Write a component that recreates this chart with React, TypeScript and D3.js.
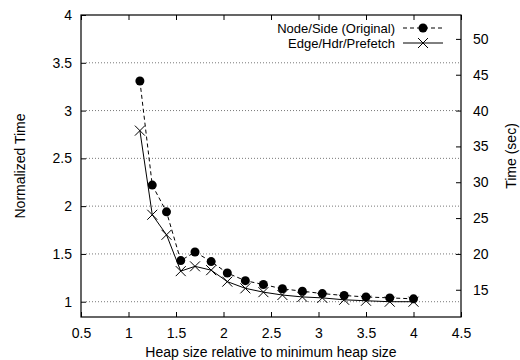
import * as d3 from "d3";
import { useEffect, useRef } from "react";

// heap size relative to minimum heap size
const heapSizes = [1.12, 1.25, 1.4, 1.55, 1.7, 1.87, 2.04, 2.23, 2.42, 2.62, 2.83, 3.04, 3.27, 3.5, 3.75, 4.0];
const nodeSide = [3.31, 2.22, 1.94, 1.43, 1.52, 1.42, 1.3, 1.22, 1.18, 1.135, 1.11, 1.085, 1.065, 1.05, 1.04, 1.03];
const edgeHdr = [2.79, 1.91, 1.7, 1.32, 1.37, 1.33, 1.21, 1.14, 1.1, 1.07, 1.05, 1.04, 1.02, 1.01, 1.0, 1.0];

const xTicks = [0.5, 1, 1.5, 2, 2.5, 3, 3.5, 4, 4.5];
const yTicks = [1, 1.5, 2, 2.5, 3, 3.5, 4];
const y2Ticks = [15, 20, 25, 30, 35, 40, 45, 50];
const seriesNames = ["Node/Side (Original)", "Edge/Hdr/Prefetch"];

// seconds per normalized unit (right axis)
const secPerUnit = 40 / 3;

const W = 520;
const H = 360;
const margin = { left: 81, right: 59, top: 15, bottom: 43 };
const font = "Liberation Sans, Arial, Helvetica, sans-serif";
const fontSize = "14px";

export default function App() {
    const svgRef = useRef<SVGSVGElement>(null);

    useEffect(() => {
        if (svgRef.current) drawChart();
    }, []);

    const drawChart = () => {
        const svg = d3.select(svgRef.current);
        svg.selectAll("*").remove();

        const chartWidth = W - margin.left - margin.right;
        const chartHeight = H - margin.top - margin.bottom;
        const yMin = 0.84;

        const scaleX = d3.scaleLinear().domain([0.5, 4.5]).range([0, chartWidth]);
        const scaleY = d3.scaleLinear().domain([yMin, 4]).range([chartHeight, 0]);
        const scaleY2 = d3
            .scaleLinear()
            .domain([yMin * secPerUnit, 4 * secPerUnit])
            .range([chartHeight, 0]);

        const chart = svg
            .append("g")
            .attr("transform", "translate(" + margin.left + "," + margin.top + ")")
            .style("font-family", font)
            .style("font-size", fontSize);

        // dotted grid lines
        chart
            .append("g")
            .selectAll("line")
            .data(yTicks.filter((t) => t < 4))
            .join("line")
            .attr("x1", 5)
            .attr("x2", chartWidth)
            .attr("y1", (d) => scaleY(d))
            .attr("y2", (d) => scaleY(d))
            .attr("stroke", "#555")
            .attr("stroke-width", 0.8)
            .attr("stroke-dasharray", "1,2");

        // bottom axis, ticks inside
        const xAxis = chart
            .append("g")
            .attr("transform", "translate(0," + chartHeight + ")")
            .call(d3.axisBottom(scaleX).tickValues(xTicks).tickSizeInner(-5).tickSizeOuter(0).tickPadding(11).tickFormat((d) => `${d}`));
        // top mirror ticks
        const xTop = chart
            .append("g")
            .call(d3.axisTop(scaleX).tickValues(xTicks).tickSizeInner(-5).tickSizeOuter(0).tickFormat(() => ""));
        // left axis
        const yAxis = chart
            .append("g")
            .call(d3.axisLeft(scaleY).tickValues(yTicks).tickSizeInner(-5).tickSizeOuter(0).tickPadding(9).tickFormat((d) => `${d}`));
        // right axis
        const y2Axis = chart
            .append("g")
            .attr("transform", "translate(" + chartWidth + ",0)")
            .call(d3.axisRight(scaleY2).tickValues(y2Ticks).tickSizeInner(-5).tickSizeOuter(0).tickPadding(12).tickFormat((d) => `${d}`));

        [xAxis, xTop, yAxis, y2Axis].forEach((a) => {
            a.select(".domain").remove();
            a.selectAll("text").attr("fill", "#000").style("font-family", font).style("font-size", fontSize);
            a.selectAll("line").attr("stroke", "#000");
        });

        // border
        chart
            .append("rect")
            .attr("width", chartWidth)
            .attr("height", chartHeight)
            .attr("fill", "none")
            .attr("stroke", "#000")
            .attr("stroke-width", 1.2);

        const line = d3
            .line<number>()
            .x((_, i) => scaleX(heapSizes[i]))
            .y((d) => scaleY(d));

        // Node/Side dashed with dots
        chart
            .append("path")
            .attr("d", line(nodeSide))
            .attr("fill", "none")
            .attr("stroke", "#000")
            .attr("stroke-dasharray", "4,3");
        chart
            .append("g")
            .selectAll("circle")
            .data(nodeSide)
            .join("circle")
            .attr("cx", (_, i) => scaleX(heapSizes[i]))
            .attr("cy", (d) => scaleY(d))
            .attr("r", 4.5)
            .attr("fill", "#000");

        // Edge/Hdr solid with crosses
        chart
            .append("path")
            .attr("d", line(edgeHdr))
            .attr("fill", "none")
            .attr("stroke", "#000");
        const cross = (x: number, y: number, s: number) =>
            `M${x - s},${y - s}L${x + s},${y + s}M${x - s},${y + s}L${x + s},${y - s}`;
        chart
            .append("g")
            .selectAll("path")
            .data(edgeHdr)
            .join("path")
            .attr("d", (d, i) => cross(scaleX(heapSizes[i]), scaleY(d), 5))
            .attr("stroke", "#000")
            .attr("fill", "none");

        // legend
        const legend = chart.append("g").attr("transform", "translate(" + (chartWidth - 66) + ",13)");
        seriesNames.forEach((name, i) => {
            const g = legend.append("g").attr("transform", "translate(0," + i * 15 + ")");
            g.append("text")
                .attr("x", 0)
                .attr("y", 0)
                .attr("dy", "0.35em")
                .attr("text-anchor", "end")
                .style("font-size", "13px")
                .text(name);
            g.append("line")
                .attr("x1", 8)
                .attr("x2", 48)
                .attr("stroke", "#000")
                .attr("stroke-dasharray", i === 0 ? "4,3" : null);
            if (i === 0) g.append("circle").attr("cx", 28).attr("r", 4.5).attr("fill", "#000");
            else g.append("path").attr("d", cross(28, 0, 5)).attr("stroke", "#000");
        });

        // axis labels
        chart
            .append("text")
            .attr("transform", "translate(" + (20 - margin.left) + "," + chartHeight / 2 + ") rotate(-90)")
            .attr("text-anchor", "middle")
            .attr("dy", "0.35em")
            .text("Normalized Time");
        chart
            .append("text")
            .attr("transform", "translate(" + (511 - margin.left) + "," + (156 - margin.top) + ") rotate(-90)")
            .attr("text-anchor", "middle")
            .attr("dy", "0.35em")
            .text("Time (sec)");
        chart
            .append("text")
            .attr("x", chartWidth / 2)
            .attr("y", chartHeight + 35)
            .attr("text-anchor", "middle")
            .attr("dy", "0.35em")
            .text("Heap size relative to minimum heap size");
    };

    return (
        <svg
            ref={svgRef}
            width={W}
            height={H}
            style={{ position: "absolute", left: 0, top: 0, background: "#fff" }}
        />
    );
}
